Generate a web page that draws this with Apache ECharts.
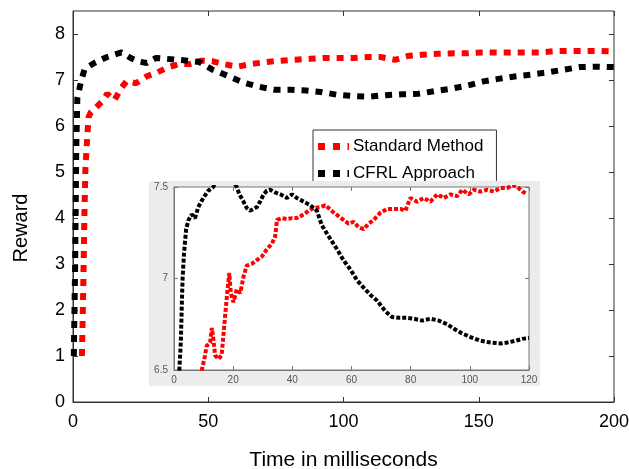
<!DOCTYPE html>
<html><head><meta charset="utf-8">
<script src="https://cdn.jsdelivr.net/npm/echarts@6/dist/echarts.min.js"></script>
<style>html,body{margin:0;padding:0;background:#fff}#c{width:629px;height:469px}</style>
</head><body><div id="c"></div>
<script>
// ---------- data ----------
const seriesNames = ['Standard Method', 'CFRL Approach'];
const xTicksMain = [0, 50, 100, 150, 200];
const yTicksMain = [0, 1, 2, 3, 4, 5, 6, 7, 8];
const xTicksInset = [0, 20, 40, 60, 80, 100, 120];
const yTicksInset = [6.5, 7, 7.5];

const mainBlackX = [0.3, 0.8, 1.2, 1.6, 2.9, 4.3, 7.9, 12.6, 17.9, 21.3, 24.4, 27.3, 30.7, 34.7, 38.7, 42.7, 46.7, 51.4, 56.8, 62.8, 68.2, 74.2, 80.2, 86.2, 91.6, 97.6, 103.6, 109.6, 115.7, 121.7, 127.7, 133.7, 139.8, 145.8, 151.8, 157.8, 163.9, 169.9, 175.9, 181.9, 187.3, 193.3, 198.7, 200];
const mainBlackY = [1.0, 3.0, 5.5, 6.6, 6.95, 7.24, 7.37, 7.5, 7.6, 7.48, 7.4, 7.37, 7.48, 7.46, 7.44, 7.42, 7.39, 7.23, 7.1, 6.95, 6.86, 6.79, 6.79, 6.77, 6.74, 6.68, 6.65, 6.64, 6.67, 6.69, 6.7, 6.76, 6.81, 6.88, 6.97, 7.03, 7.08, 7.12, 7.17, 7.23, 7.28, 7.29, 7.28, 7.28];

const mainRedX = [3.3, 3.8, 4.2, 4.6, 5.3, 5.8, 6.6, 8.6, 11.2, 12.6, 15.3, 17.9, 19.9, 23.3, 27.3, 31.3, 35.3, 39.4, 43.4, 47.4, 51.4, 55.4, 60.8, 66.1, 71.5, 76.8, 82.2, 87.6, 92.9, 98.3, 103.6, 109, 113.7, 119, 123.7, 129, 135, 141.1, 145.8, 151.1, 156.5, 161.8, 167.9, 173.2, 178.6, 183.9, 189.3, 195.3, 200];
const mainRedY = [1.0, 2.5, 4.0, 5.1, 5.8, 6.2, 6.3, 6.41, 6.56, 6.7, 6.56, 6.83, 6.98, 6.93, 7.08, 7.17, 7.28, 7.35, 7.35, 7.42, 7.41, 7.35, 7.29, 7.35, 7.39, 7.42, 7.44, 7.46, 7.48, 7.48, 7.48, 7.5, 7.5, 7.44, 7.52, 7.55, 7.57, 7.58, 7.58, 7.6, 7.6, 7.6, 7.6, 7.6, 7.63, 7.63, 7.63, 7.63, 7.62];

const insetBlackX = [1.5, 1.8, 2.3, 2.6, 2.9, 3.4, 4.1, 4.9, 6.0, 7.1, 8.2, 9.9, 11.6, 13.3, 15, 17, 19, 21.2, 22.1, 23.5, 24.6, 25.7, 26.9, 28, 29.1, 30.3, 31.4, 32.5, 34.2, 35.9, 38.2, 39.9, 41.5, 43.8, 46.1, 48.3, 50, 52.3, 55.1, 57.3, 59.6, 61.9, 64.1, 66.4, 68.6, 71.5, 73.7, 76, 78.8, 81.1, 83.9, 86.7, 89.5, 92.3, 95.2, 97.4, 100.2, 103.6, 107, 110.4, 112.7, 115.5, 117.7, 120];
const insetBlackY = [6.3, 6.5, 6.65, 6.83, 7.0, 7.14, 7.27, 7.32, 7.35, 7.33, 7.39, 7.44, 7.48, 7.5, 7.56, 7.6, 7.56, 7.5, 7.46, 7.42, 7.385, 7.37, 7.38, 7.39, 7.42, 7.46, 7.48, 7.485, 7.47, 7.46, 7.44, 7.46, 7.44, 7.42, 7.4, 7.37, 7.29, 7.23, 7.16, 7.1, 7.05, 6.99, 6.95, 6.91, 6.88, 6.82, 6.79, 6.785, 6.785, 6.78, 6.77, 6.78, 6.77, 6.75, 6.72, 6.7, 6.68, 6.66, 6.65, 6.645, 6.65, 6.66, 6.67, 6.675];

const insetRedX = [8.0, 9.4, 10.5, 11, 12.2, 12.8, 13.3, 13.9, 15, 16.1, 17.3, 18.1, 18.7, 19.2, 20.1, 21.2, 22.4, 23.5, 24.6, 26.3, 28, 29.7, 31.4, 33.1, 34.2, 34.8, 36.5, 38.2, 39.9, 41.5, 43.8, 45.5, 47.2, 49.4, 51.1, 52.3, 54, 55.7, 57.3, 59, 60.7, 62.4, 64.1, 65.8, 67.5, 69.8, 72, 74.3, 76.5, 78.2, 79.9, 82.2, 84.4, 86.7, 89, 91.2, 93.5, 95.8, 97.4, 99.7, 101.4, 103.6, 105.9, 108.1, 110.4, 112.7, 114.4, 116.1, 117.8, 119.4];
const insetRedY = [6.3, 6.5, 6.58, 6.63, 6.65, 6.73, 6.67, 6.58, 6.56, 6.58, 6.8, 6.94, 7.03, 6.92, 6.87, 6.94, 6.92, 7.01, 7.07, 7.08, 7.1, 7.12, 7.16, 7.19, 7.23, 7.32, 7.33, 7.325, 7.33, 7.33, 7.35, 7.37, 7.385, 7.39, 7.4, 7.385, 7.36, 7.34, 7.32, 7.3, 7.31, 7.28, 7.27, 7.3, 7.32, 7.36, 7.38, 7.38, 7.38, 7.37, 7.44, 7.42, 7.44, 7.42, 7.46, 7.44, 7.46, 7.45, 7.485, 7.46, 7.485, 7.475, 7.485, 7.475, 7.495, 7.495, 7.51, 7.5, 7.475, 7.46];

// ---------- chart ----------
const zip = (xs, ys) => xs.map((x, i) => [x, ys[i]]);
const FONT = '"Liberation Sans", Arial, sans-serif';
const chart = echarts.init(document.getElementById('c'), null, {renderer: 'canvas'});

const mainTick = (vals) => ({show: true, inside: true, length: 5, customValues: vals, lineStyle: {color: '#333', width: 1}});
const insetTick = (vals) => ({show: true, inside: true, length: 4, customValues: vals, lineStyle: {color: '#777', width: 1}});
const mainLine = (show) => ({show: show, onZero: false, lineStyle: {color: '#333'}});
const insetLine = (show) => ({show: show, onZero: false, lineStyle: {color: '#777'}});
const Z_IN = 11;
const legendIcon = 'path://M0,0h7v7h-7z M15,0h7v7h-7z M29.5,0h1.5v7h-1.5z';

chart.setOption({
  animation: false,
  backgroundColor: '#fff',
  textStyle: {fontFamily: FONT},
  graphic: [
    {type: 'rect', z: 10, silent: true,
     shape: {x: 149, y: 181, width: 391, height: 205},
     style: {fill: '#ececec'}},
    {type: 'text', z: 20, silent: true, x: 21, y: 228, rotation: Math.PI / 2,
     style: {text: 'Reward', fontSize: 20, fill: '#000', fontFamily: FONT, align: 'center', verticalAlign: 'middle'}}
  ],
  legend: {
    data: seriesNames.map(n => ({name: n, icon: legendIcon})),
    orient: 'vertical',
    left: 313, top: 130,
    padding: [8, 13, 20, 5],
    itemWidth: 31, itemHeight: 7, itemGap: 10,
    borderColor: '#333', borderWidth: 1,
    backgroundColor: '#fff',
    textStyle: {fontSize: 17, color: '#000', fontFamily: FONT, padding: [0, 0, 0, -1]}
  },
  grid: [
    {left: 73, top: 11, width: 541, height: 391, show: true, containLabel: false, outerBoundsMode: 'none',
     borderColor: '#333', borderWidth: 1, backgroundColor: 'transparent'},
    {left: 174, top: 187, width: 355, height: 183, show: true, containLabel: false, outerBoundsMode: 'none',
     z: Z_IN, borderColor: '#777', borderWidth: 1, backgroundColor: '#fff'}
  ],
  xAxis: [
    {type: 'value', gridIndex: 0, min: 0, max: 200, interval: 50,
     axisLine: mainLine(true), axisTick: mainTick(xTicksMain), splitLine: {show: false},
     axisLabel: {fontSize: 18, color: '#000', margin: 11, fontFamily: FONT, customValues: xTicksMain},
     name: 'Time in milliseconds', nameLocation: 'middle', nameGap: 48,
     nameTextStyle: {fontSize: 21, color: '#000', fontFamily: FONT}},
    {type: 'value', gridIndex: 0, position: 'top', min: 0, max: 200, interval: 50,
     axisLine: mainLine(false), axisTick: mainTick(xTicksMain), splitLine: {show: false}, axisLabel: {show: false}},
    {type: 'value', gridIndex: 1, min: 0, max: 120, interval: 20, z: Z_IN,
     axisLine: insetLine(true), axisTick: insetTick(xTicksInset), splitLine: {show: false},
     axisLabel: {fontSize: 10, color: '#555', margin: 5, fontFamily: FONT, customValues: xTicksInset}},
    {type: 'value', gridIndex: 1, position: 'top', min: 0, max: 120, interval: 20, z: Z_IN,
     axisLine: insetLine(false), axisTick: insetTick(xTicksInset), splitLine: {show: false}, axisLabel: {show: false}}
  ],
  yAxis: [
    {type: 'value', gridIndex: 0, position: 'left', min: 0, max: 8.5, interval: 1,
     axisLine: mainLine(true), axisTick: mainTick(yTicksMain), splitLine: {show: false},
     axisLabel: {fontSize: 18, color: '#000', margin: 8, fontFamily: FONT, customValues: yTicksMain}},
    {type: 'value', gridIndex: 0, position: 'right', min: 0, max: 8.5, interval: 1,
     axisLine: mainLine(false), axisTick: mainTick(yTicksMain), splitLine: {show: false}, axisLabel: {show: false}},
    {type: 'value', gridIndex: 1, position: 'left', min: 6.5, max: 7.5, interval: 0.5, z: Z_IN,
     axisLine: insetLine(true), axisTick: insetTick(yTicksInset), splitLine: {show: false},
     axisLabel: {fontSize: 10, color: '#555', margin: 6, fontFamily: FONT, customValues: yTicksInset}},
    {type: 'value', gridIndex: 1, position: 'right', min: 6.5, max: 7.5, interval: 0.5, z: Z_IN,
     axisLine: insetLine(false), axisTick: insetTick(yTicksInset), splitLine: {show: false}, axisLabel: {show: false}}
  ],
  series: [
    {name: seriesNames[0], type: 'line', xAxisIndex: 0, yAxisIndex: 0, showSymbol: false, symbol: 'none',
     data: zip(mainRedX, mainRedY), itemStyle: {color: '#ff0000'},
     lineStyle: {color: '#ff0000', width: 6, type: [7, 7], cap: 'butt'}},
    {name: seriesNames[1], type: 'line', xAxisIndex: 0, yAxisIndex: 0, showSymbol: false, symbol: 'none',
     data: zip(mainBlackX, mainBlackY), itemStyle: {color: '#000'},
     lineStyle: {color: '#000', width: 6, type: [7, 7], cap: 'butt'}},
    {name: 'inset-red', type: 'line', xAxisIndex: 2, yAxisIndex: 2, z: Z_IN + 1, showSymbol: false, symbol: 'none', clip: true,
     data: zip(insetRedX, insetRedY),
     lineStyle: {color: '#ff0000', width: 4, type: [4, 2], cap: 'butt'}},
    {name: 'inset-black', type: 'line', xAxisIndex: 2, yAxisIndex: 2, z: Z_IN + 1, showSymbol: false, symbol: 'none', clip: true,
     data: zip(insetBlackX, insetBlackY),
     lineStyle: {color: '#000', width: 4, type: [4, 2], cap: 'butt'}}
  ]
});
</script>
</body></html>
